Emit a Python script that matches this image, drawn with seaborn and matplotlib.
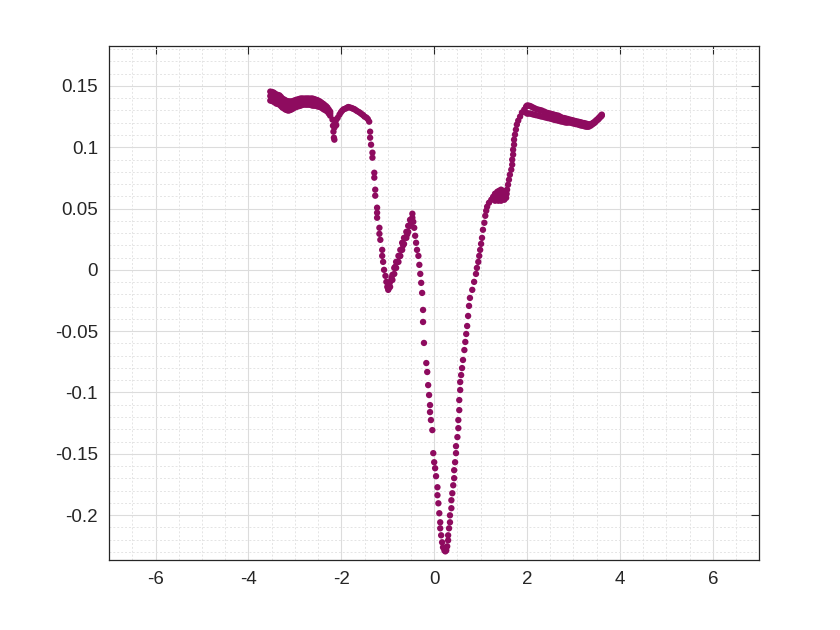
import numpy as np
import pandas as pd
import matplotlib
matplotlib.use("Agg")
import matplotlib.pyplot as plt
from matplotlib.ticker import MultipleLocator, FuncFormatter
import seaborn as sns

# ! Datos --------------------------------------------------------------------

# ? banda izquierda (gruesa): x, borde superior, centro, borde inferior
izq_x = [-3.53, -3.49, -3.46, -3.43, -3.40, -3.36, -3.33, -3.30, -3.27, -3.23,
         -3.20, -3.17, -3.14, -3.11, -3.08, -3.04, -3.01, -2.98, -2.95, -2.91,
         -2.88, -2.85, -2.82, -2.78, -2.75, -2.72, -2.69, -2.65, -2.62, -2.59,
         -2.56, -2.53, -2.50, -2.46, -2.43, -2.40, -2.37, -2.33, -2.30, -2.27,
         -2.24]
izq_hi = [0.1454, 0.1450, 0.1446, 0.1438, 0.1430, 0.1426, 0.1422, 0.1410, 0.1397, 0.1389,
          0.1381, 0.1377, 0.1373, 0.1373, 0.1373, 0.1377, 0.1381, 0.1385, 0.1389, 0.1393,
          0.1397, 0.1397, 0.1397, 0.1397, 0.1397, 0.1397, 0.1397, 0.1397, 0.1397, 0.1393,
          0.1389, 0.1385, 0.1381, 0.1373, 0.1364, 0.1356, 0.1348, 0.1336, 0.1324, 0.1307,
          0.1291]
izq_mid = [0.1418, 0.1414, 0.1410, 0.1402, 0.1393, 0.1389, 0.1385, 0.1373, 0.1361, 0.1352,
           0.1344, 0.1340, 0.1336, 0.1338, 0.1340, 0.1346, 0.1352, 0.1357, 0.1361, 0.1365,
           0.1369, 0.1371, 0.1373, 0.1373, 0.1373, 0.1373, 0.1373, 0.1371, 0.1369, 0.1366,
           0.1364, 0.1360, 0.1356, 0.1350, 0.1344, 0.1336, 0.1328, 0.1318, 0.1307, 0.1291,
           0.1275]
izq_lo = [0.1381, 0.1377, 0.1373, 0.1365, 0.1356, 0.1352, 0.1348, 0.1336, 0.1324, 0.1315,
          0.1307, 0.1303, 0.1299, 0.1303, 0.1307, 0.1315, 0.1324, 0.1328, 0.1332, 0.1336,
          0.1340, 0.1344, 0.1348, 0.1348, 0.1348, 0.1348, 0.1348, 0.1344, 0.1340, 0.1340,
          0.1340, 0.1336, 0.1332, 0.1328, 0.1324, 0.1315, 0.1307, 0.1299, 0.1291, 0.1275,
          0.1258]

# ? tramo fino: caida en -2.17, hombro, caida, V, pico, minimo y subida
fino_x = [-2.19, -2.18, -2.17, -2.16, -2.15, -2.15, -2.13, -2.11, -2.11, -2.08,
          -2.04, -2.01, -1.98, -1.95, -1.91, -1.88, -1.85, -1.82, -1.78, -1.75,
          -1.72, -1.69, -1.66, -1.62, -1.59, -1.56, -1.53, -1.50, -1.46, -1.43,
          -1.40, -1.38, -1.38, -1.36, -1.33, -1.33, -1.29, -1.29, -1.27, -1.27,
          -1.23, -1.23, -1.23, -1.18, -1.18, -1.16, -1.12, -1.12, -1.10, -1.08,
          -1.05, -1.03, -1.01, -0.99,
          -0.95, -0.95, -0.90, -0.90, -0.86, -0.86, -0.82, -0.82, -0.77, -0.77,
          -0.73, -0.73, -0.69, -0.69, -0.65, -0.65, -0.60, -0.60, -0.56, -0.56,
          -0.52, -0.52, -0.47, -0.47,
          -0.92, -0.84, -0.75, -0.67, -0.58, -0.50, -0.98, -0.97,
          -0.45, -0.43, -0.41, -0.39, -0.37, -0.34, -0.32, -0.30, -0.28, -0.26,
          -0.24, -0.24, -0.22, -0.17, -0.15, -0.13, -0.11, -0.09, -0.09, -0.07,
          -0.04, -0.02, 0.00, 0.02, 0.04, 0.07, 0.07, 0.09, 0.11, 0.13,
          0.13, 0.15, 0.17, 0.19, 0.22, 0.24, 0.26, 0.28, 0.30, 0.30,
          0.32, 0.34, 0.34, 0.37, 0.37, 0.39, 0.41, 0.43, 0.43, 0.45,
          0.47, 0.47, 0.50, 0.52, 0.52, 0.54, 0.54, 0.56, 0.56, 0.58,
          0.60, 0.62, 0.65, 0.67, 0.69, 0.71, 0.73, 0.75, 0.77, 0.82,
          0.86, 0.90, 0.92, 0.95, 0.97, 0.99, 1.01, 1.03, 1.05, 1.08,
          1.10, 1.12, 1.14, 1.18, 1.23,
          1.27, 1.31, 1.36, 1.40, 1.44, 1.48, 1.53, 1.57, 1.31, 1.38,
          1.44, 1.51, 1.55, 1.29, 1.34, 1.40, 1.46, 1.51, 1.56,
          1.59, 1.61, 1.63, 1.66, 1.68, 1.68, 1.70, 1.70, 1.72, 1.72,
          1.74, 1.76, 1.78, 1.81, 1.85, 1.89, 1.94]
fino_y = [0.1225, 0.1176, 0.1127, 0.1078, 0.1062, 0.1160, 0.1200, 0.1225, 0.1180, 0.1240,
          0.1266, 0.1285, 0.1299, 0.1310, 0.1315, 0.1322, 0.1328, 0.1325, 0.1320, 0.1315,
          0.1311, 0.1303, 0.1295, 0.1287, 0.1279, 0.1270, 0.1262, 0.1250, 0.1242, 0.1230,
          0.1209, 0.1127, 0.1078, 0.1021, 0.0956, 0.0915, 0.0792, 0.0752, 0.0654, 0.0605,
          0.0507, 0.0466, 0.0425, 0.0343, 0.0294, 0.0245, 0.0163, 0.0114, 0.0065, 0.0000,
          -0.0049, -0.0098, -0.0139, -0.0163,
          -0.0139, -0.0098, -0.0082, -0.0041, -0.0033, 0.0016, 0.0016, 0.0065, 0.0065, 0.0114,
          0.0114, 0.0163, 0.0163, 0.0221, 0.0212, 0.0261, 0.0261, 0.0310, 0.0310, 0.0359,
          0.0359, 0.0408, 0.0425, 0.0458,
          -0.0065, 0.0025, 0.0110, 0.0200, 0.0290, 0.0395, -0.0150, -0.0120,
          0.0392, 0.0343, 0.0278, 0.0221, 0.0163, 0.0114, 0.0041, -0.0033, -0.0106, -0.0188,
          -0.0327, -0.0425, -0.0596, -0.0760, -0.0833, -0.0940, -0.1021, -0.1103, -0.1160, -0.1225,
          -0.1307, -0.1495, -0.1569, -0.1618, -0.1683, -0.1773, -0.1838, -0.1904, -0.1985, -0.2059,
          -0.2108, -0.2165, -0.2222, -0.2263, -0.2288, -0.2296, -0.2288, -0.2255, -0.2206, -0.2165,
          -0.2108, -0.2059, -0.2002, -0.1944, -0.1879, -0.1822, -0.1757, -0.1699, -0.1634, -0.1569,
          -0.1495, -0.1438, -0.1364, -0.1291, -0.1225, -0.1144, -0.1062, -0.0980, -0.0915, -0.0858,
          -0.0801, -0.0735, -0.0654, -0.0588, -0.0523, -0.0458, -0.0376, -0.0294, -0.0229, -0.0163,
          -0.0098, -0.0033, 0.0016, 0.0065, 0.0114, 0.0163, 0.0212, 0.0261, 0.0327, 0.0384,
          0.0441, 0.0482, 0.0515, 0.0547, 0.0572,
          0.0596, 0.0621, 0.0637, 0.0645, 0.0654, 0.0645, 0.0637, 0.0654, 0.0564, 0.0564,
          0.0564, 0.0572, 0.0588, 0.0580, 0.0600, 0.0605, 0.0605, 0.0605, 0.0620,
          0.0694, 0.0735, 0.0776, 0.0817, 0.0858, 0.0899, 0.0940, 0.0980, 0.1021, 0.1062,
          0.1103, 0.1144, 0.1185, 0.1217, 0.1250, 0.1283, 0.1307]

# ? banda derecha: x, borde superior, borde inferior
der_x = [1.98, 2.00, 2.03, 2.07, 2.11, 2.15, 2.19, 2.24, 2.28, 2.32,
         2.37, 2.41, 2.45, 2.50, 2.54, 2.58, 2.62, 2.67, 2.71, 2.75,
         2.80, 2.84, 2.88, 2.93, 2.97, 3.01, 3.05, 3.10, 3.14, 3.18,
         3.23, 3.27, 3.30, 3.33, 3.37, 3.40, 3.43, 3.46, 3.49, 3.53,
         3.56, 3.59, 3.61]
der_hi = [0.1332, 0.1340, 0.1340, 0.1336, 0.1328, 0.1320, 0.1313, 0.1307, 0.1303, 0.1299,
          0.1291, 0.1283, 0.1279, 0.1275, 0.1270, 0.1266, 0.1262, 0.1258, 0.1250, 0.1242,
          0.1238, 0.1234, 0.1230, 0.1225, 0.1221, 0.1217, 0.1213, 0.1209, 0.1205, 0.1201,
          0.1197, 0.1193, 0.1189, 0.1185, 0.1189, 0.1193, 0.1201, 0.1209, 0.1221, 0.1234,
          0.1246, 0.1258, 0.1266]
der_lo = [0.1283, 0.1275, 0.1275, 0.1275, 0.1270, 0.1266, 0.1262, 0.1258, 0.1254, 0.1250,
          0.1246, 0.1242, 0.1238, 0.1234, 0.1230, 0.1225, 0.1221, 0.1217, 0.1213, 0.1209,
          0.1205, 0.1201, 0.1201, 0.1201, 0.1197, 0.1193, 0.1189, 0.1185, 0.1180, 0.1176,
          0.1172, 0.1168, 0.1168, 0.1168, 0.1176, 0.1185, 0.1193, 0.1201, 0.1213, 0.1225,
          0.1238, 0.1250, 0.1258]

x_ticks = [-6, -4, -2, 0, 2, 4, 6]
y_ticks = [-0.2, -0.15, -0.1, -0.05, 0, 0.05, 0.1, 0.15]

# ! Tabla para seaborn ---------------------------------------------------------

data = pd.DataFrame({
    "x": izq_x * 3 + fino_x + der_x * 2,
    "y": izq_hi + izq_mid + izq_lo + fino_y + der_hi + der_lo,
})

# ! Grafica -------------------------------------------------------------------

sns.set_style("white")
plt.rcParams["font.family"] = ["Liberation Sans", "DejaVu Sans"]
plt.rcParams["axes.unicode_minus"] = False

color = "#8e0b5f"
fig = plt.figure(figsize=(8.4, 6.3), dpi=100)
ax = fig.add_axes([0.13, 0.111, 0.7738, 0.8162])

sns.scatterplot(data=data, x="x", y="y", ax=ax, color=color, s=21,
                linewidth=0, edgecolor="none", zorder=3)

ax.set_xlim(-7, 7)
ax.set_ylim(-0.2367, 0.1827)
ax.set_xticks(x_ticks)
ax.set_yticks(y_ticks)
ax.xaxis.set_minor_locator(MultipleLocator(0.5))
ax.yaxis.set_minor_locator(MultipleLocator(0.01))
ax.yaxis.set_major_formatter(FuncFormatter(lambda v, p: "%g" % round(v, 2)))
ax.xaxis.set_major_formatter(FuncFormatter(lambda v, p: "%g" % v))
ax.set_xlabel("")
ax.set_ylabel("")

ax.grid(which="major", color="#dcdcdc", linestyle="-", linewidth=0.8, zorder=0)
ax.grid(which="minor", color="#e4e4e4", linestyle=(0, (2, 2)), linewidth=0.7, zorder=0)
ax.set_axisbelow(True)

for s in ax.spines.values():
    s.set_color("#262626")
    s.set_linewidth(0.9)
ax.tick_params(which="major", direction="in", length=6, width=0.8, color="#262626",
               top=True, right=True, labelsize=13.5, labelcolor="#262626", pad=8)
ax.tick_params(which="minor", length=0, top=True, right=True)

fig.savefig("out.png", dpi=100)
